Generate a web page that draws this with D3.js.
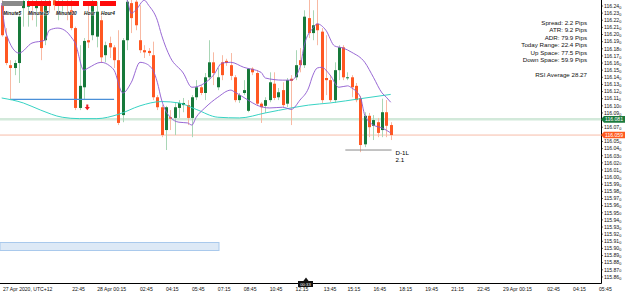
<!DOCTYPE html>
<html>
<head>
<meta charset="utf-8">
<script src="https://cdn.jsdelivr.net/npm/d3@7"></script>
<style>
  body { margin: 0; background: #fff; }
  svg { display: block; }
</style>
</head>
<body>
<div id="container"></div>
<script>
let w = 625;
let h = 294;
let plotRight = 601;
let plotBottom = 283;

// 15 minute candles
const opens = [
  116.241,116.197,116.157,116.153,116.160,116.237,116.239,116.246,116.237,116.244,
  116.192,116.246,116.248,116.241,116.243,116.247,116.234,116.209,116.097,116.126,
  116.192,116.199,116.197,116.220,116.171,116.188,116.182,116.164,116.087,116.192,
  116.244,116.246,116.192,116.178,116.177,116.171,116.112,116.098,116.066,116.084,
  116.083,116.097,116.101,116.101,116.083,116.112,116.126,116.118,116.140,116.161,
  116.126,116.161,116.163,116.157,116.140,116.108,116.118,116.093,116.152,116.146,
  116.103,116.100,116.108,116.131,116.112,116.122,116.103,116.138,116.140,116.164,
  116.157,116.223,116.202,116.215,116.204,116.139,116.136,116.108,116.150,116.182,
  116.139,116.140,116.128,116.111,116.046,116.086,116.072,116.077,116.066,116.091,
  116.073
];
const highs = [
  116.248,116.209,116.164,116.164,116.232,116.252,116.252,116.252,116.252,116.252,
  116.252,116.252,116.252,116.252,116.252,116.252,116.252,116.211,116.185,116.195,
  116.241,116.252,116.246,116.227,116.190,116.197,116.185,116.206,116.195,116.252,
  116.252,116.252,116.241,116.185,116.181,116.190,116.115,116.101,116.100,116.094,
  116.104,116.108,116.111,116.108,116.115,116.136,116.129,116.146,116.192,116.175,
  116.153,116.171,116.166,116.174,116.143,116.118,116.136,116.153,116.154,116.150,
  116.105,116.112,116.147,116.147,116.125,116.133,116.139,116.143,116.178,116.181,
  116.234,116.252,116.234,116.252,116.209,116.199,116.143,116.161,116.185,116.185,
  116.147,116.143,116.132,116.114,116.091,116.090,116.087,116.083,116.110,116.108,
  116.077
];
const lows = [
  116.197,116.157,116.108,116.143,116.132,116.211,116.211,116.220,116.211,116.164,
  116.185,116.230,116.234,116.220,116.227,116.220,116.206,116.094,116.094,116.108,
  116.181,116.192,116.182,116.160,116.161,116.167,116.153,116.073,116.077,116.178,
  116.202,116.206,116.174,116.167,116.170,116.108,116.094,116.056,116.038,116.066,
  116.059,116.083,116.091,116.073,116.056,116.108,116.115,116.108,116.136,116.129,
  116.122,116.136,116.156,116.136,116.105,116.104,116.115,116.091,116.143,116.100,
  116.076,116.090,116.105,116.108,116.108,116.098,116.098,116.073,116.136,116.147,
  116.153,116.195,116.192,116.185,116.104,116.115,116.105,116.104,116.136,116.136,
  116.136,116.112,116.105,116.035,116.042,116.056,116.052,116.056,116.056,116.056,
  116.052
];
const closes = [
  116.199,116.160,116.153,116.160,116.225,116.247,116.244,116.240,116.244,116.181,
  116.244,116.241,116.241,116.247,116.247,116.241,116.209,116.097,116.128,116.191,
  116.189,116.246,116.232,116.168,116.185,116.182,116.164,116.076,116.192,116.246,
  116.223,116.213,116.178,116.175,116.174,116.112,116.098,116.059,116.098,116.082,
  116.098,116.104,116.104,116.083,116.112,116.126,116.118,116.140,116.161,116.146,
  116.140,116.143,116.160,116.142,116.108,116.115,116.122,116.152,116.147,116.103,
  116.098,116.108,116.133,116.111,116.119,116.101,116.136,116.135,116.157,116.157,
  116.225,116.202,116.213,116.206,116.108,116.136,116.108,116.150,116.182,116.140,
  116.140,116.126,116.108,116.045,116.086,116.070,116.080,116.062,116.091,116.072,
  116.059
];

// indicator lines as [candle index, price]
const maLine = [[0,116.111],[5,116.104],[9,116.094],[14,116.084],[18,116.082],[22,116.082],
  [27,116.088],[32,116.100],[37,116.106],[41,116.104],[45,116.095],[50,116.084],[55,116.083],
  [61,116.090],[67,116.097],[71,116.101],[76,116.104],[83,116.110],[90,116.116]];
const bandLower = [[0,116.244],[1,116.202],[4,116.174],[7,116.188],[10,116.192],[11,116.206],
  [13,116.209],[15,116.204],[16,116.197],[17,116.188],[19,116.150],[20,116.153],[23,116.161],
  [25,116.156],[26,116.150],[28,116.118],[30,116.133],[32,116.161],[33,116.160],[35,116.150],
  [36,116.133],[37,116.108],[39,116.084],[41,116.077],[43,116.076],[44,116.073],[45,116.084],
  [47,116.097],[50,116.112],[53,116.122],[54,116.119],[57,116.108],[59,116.101],[62,116.097],
  [65,116.098],[67,116.095],[69,116.108],[71,116.125],[72,116.143],[73,116.153],[74,116.154],
  [76,116.143],[78,116.126],[80,116.128],[81,116.125],[83,116.112],[84,116.087],[86,116.073],
  [88,116.069],[90,116.062]];
const bandUpper = [[26,116.290],[29,116.249],[30,116.230],[31,116.234],[33,116.248],[34,116.241],
  [36,116.220],[37,116.199],[39,116.168],[42,116.146],[44,116.126],[47,116.132],[49,116.143],
  [51,116.160],[53,116.161],[56,116.154],[60,116.147],[61,116.139],[65,116.136],[67,116.136],
  [69,116.154],[70,116.185],[72,116.209],[73,116.215],[75,116.206],[77,116.184],[79,116.181],
  [81,116.175],[84,116.161],[86,116.140],[88,116.118],[89,116.112],[90,116.105]];
const prevLine = [[2,116.109],[26,116.109]];
const dayLow = [[79.5,116.038],[90.2,116.038]];

const bidPrice = 116.081;
const askPrice = 116.059;
const arrowAt = [19.8, 116.097];

const timeLabels = ["27 Apr 2020, UTC+12","22:45","28 Apr 00:15","02:45","04:15","05:45","07:15",
  "08:45","10:45","12:15","13:45","15:15","16:45","18:15","19:45","21:15","22:45","29 Apr 00:15",
  "02:45","04:15","05:45"];
const timeSlots = [0.3,16.3,22.1,32,38,44,50,56,62,68,74.5,80,86,92,98,104,110,116,126.2,132.2,138.2];

const infoLines = ["Spread: 2.2 Pips","ATR: 9.2 Pips","ADR: 79.9 Pips","Today Range: 22.4 Pips",
  "Up Space: 77.5 Pips","Down Space: 59.9 Pips","","RSI Average 28.27"];
const buttons = ["Minute5","Minute15","Minute30","Hour","Hour4"];

const upColor = "#17793a", upWick = "#a9d6b6";
const downColor = "#ff5722", downWick = "#f8b9a3";
const font = "'Liberation Sans', Arial, sans-serif";

let x = d3.scaleLinear().domain([0, 90]).range([1.7, 390.7]);
let y = d3.scaleLinear().domain([115.8515, 116.2484]).range([plotBottom, 0]);

let svg = d3.select("#container").append("svg")
    .attr("width", w)
    .attr("height", h)
    .style("background-color", "#fff");

svg.append("clipPath").attr("id", "plot")
  .append("rect").attr("x", 0).attr("y", 0).attr("width", plotRight).attr("height", plotBottom);

let plot = svg.append("g").attr("clip-path", "url(#plot)");

// bid / ask lines
plot.append("line").attr("x1", 0).attr("x2", plotRight)
  .attr("y1", y(bidPrice)).attr("y2", y(bidPrice))
  .attr("stroke", "#d2e9da").attr("stroke-width", 2.5);
plot.append("line").attr("x1", 0).attr("x2", plotRight)
  .attr("y1", y(askPrice)).attr("y2", y(askPrice))
  .attr("stroke", "#f7bca8").attr("stroke-width", 1);

let candles = d3.range(opens.length).map(i => ({
  i: i, o: opens[i], h: highs[i], l: lows[i], c: closes[i], up: closes[i] >= opens[i]
}));

let cg = plot.append("g");
cg.selectAll("line.wick").data(candles).join("line")
  .attr("class", "wick")
  .attr("x1", d => Math.round(x(d.i)) + 0.5).attr("x2", d => Math.round(x(d.i)) + 0.5)
  .attr("y1", d => y(d.h)).attr("y2", d => y(d.l))
  .attr("stroke", d => d.up ? upWick : downWick).attr("stroke-width", 1);
cg.selectAll("rect.body").data(candles).join("rect")
  .attr("class", "body")
  .attr("x", d => Math.round(x(d.i)) - 1)
  .attr("width", 3)
  .attr("y", d => y(Math.max(d.o, d.c)))
  .attr("height", d => Math.max(1, Math.abs(y(d.o) - y(d.c))))
  .attr("fill", d => d.up ? upColor : downColor);

let line = d3.line().x(d => x(d[0])).y(d => y(d[1])).curve(d3.curveMonotoneX);

plot.append("path").datum(prevLine).attr("d", line)
  .attr("fill", "none").attr("stroke", "#4a8fd8").attr("stroke-width", 1.1);
plot.append("path").datum(maLine).attr("d", line)
  .attr("fill", "none").attr("stroke", "#37d3c4").attr("stroke-width", 1);
plot.append("path").datum(bandLower).attr("d", line)
  .attr("fill", "none").attr("stroke", "#8d58cf").attr("stroke-width", 0.9);
plot.append("path").datum(bandUpper).attr("d", line)
  .attr("fill", "none").attr("stroke", "#8d58cf").attr("stroke-width", 0.9);

// day low marker
plot.append("path").datum(dayLow).attr("d", d3.line().x(d => x(d[0])).y(d => y(d[1])))
  .attr("stroke", "#8a8a8a").attr("stroke-width", 1);
svg.append("text").attr("x", x(dayLow[1][0]) + 4).attr("y", y(dayLow[0][1]) + 4.5)
  .attr("font-family", font).attr("font-size", 6.2).text("D-1L");
svg.append("text").attr("x", x(dayLow[1][0]) + 4).attr("y", y(dayLow[0][1]) + 12)
  .attr("font-family", font).attr("font-size", 6.2).text("2.1");

// signal arrow
plot.append("path")
  .attr("transform", `translate(${x(arrowAt[0])},${y(arrowAt[1])})`)
  .attr("d", "M-1,-3.5 H1 V-1 H2.6 L0,2.2 L-2.6,-1 H-1 Z")
  .attr("fill", "#ee1c24");

// light blue box
svg.append("rect").attr("x", 0).attr("y", 242.5).attr("width", 219).attr("height", 8)
  .attr("fill", "#dde9f6").attr("stroke", "#a9c9ec").attr("stroke-width", 1);

// axes
svg.append("line").attr("x1", plotRight + 0.5).attr("x2", plotRight + 0.5)
  .attr("y1", 0).attr("y2", plotBottom + 0.5).attr("stroke", "#000");
svg.append("line").attr("x1", 0).attr("x2", plotRight + 0.5)
  .attr("y1", plotBottom + 0.5).attr("y2", plotBottom + 0.5).attr("stroke", "#000");

// price labels hidden under the bid/ask tags
let priceTicks = d3.range(0, 39).map(k => +(115.86 + k * 0.01).toFixed(2))
  .filter(v => Math.abs(y(v) - y(bidPrice)) > 4.5 && Math.abs(y(v) - y(askPrice)) > 4.5);
let yt = svg.append("g").selectAll("g").data(priceTicks).join("g")
  .attr("transform", d => `translate(${plotRight},${y(d)})`);
yt.append("line").attr("x1", 0).attr("x2", 2).attr("stroke", "#000").attr("stroke-width", 0.6);
let ytx = yt.append("text").attr("x", 3).attr("y", 1.8)
  .attr("font-family", font).attr("font-size", 5.1).attr("fill", "#111");
ytx.append("tspan").text(d => d.toFixed(2));
ytx.append("tspan").attr("font-size", 3.8).attr("dy", 0.8).text("0");

// current price tags
function tag(price, fill) {
  let yy = y(price);
  svg.append("path")
    .attr("d", `M${plotRight},${yy} L${plotRight + 3},${yy - 3.3} H${w} V${yy + 3.3} H${plotRight + 3} Z`)
    .attr("fill", fill);
  svg.append("text").attr("x", plotRight + 4).attr("y", yy + 1.8)
    .attr("font-family", font).attr("font-size", 5.1).attr("fill", "#fff")
    .text(price.toFixed(3));
}
tag(bidPrice, "#1b7a3c");
tag(askPrice, "#ff5a1f");

svg.append("g").selectAll("text").data(timeLabels).join("text")
  .attr("x", (d, i) => x(timeSlots[i]))
  .attr("y", 290.5)
  .attr("font-family", font).attr("font-size", 5.1).attr("fill", "#111")
  .text(d => d);

// current time marker on the time axis
svg.append("path").attr("d", "M303,281.5 L306,277.5 L309,281.5 Z").attr("fill", "#111");
svg.append("rect").attr("x", 298).attr("y", 281).attr("width", 15).attr("height", 6).attr("fill", "#111");
svg.append("text").attr("x", 305.5).attr("y", 285.6).attr("text-anchor", "middle")
  .attr("font-family", font).attr("font-size", 4.2).attr("fill", "#fff").text("00:33");

// info panel
svg.append("g").selectAll("text").data(infoLines).join("text")
  .attr("x", 587).attr("y", (d, i) => 25 + i * 7.4)
  .attr("text-anchor", "end")
  .attr("font-family", font).attr("font-size", 6.2).attr("fill", "#111")
  .text(d => d);

// timeframe buttons
const btnX = [2, 27, 55, 83, 100];
const btnW = [21, 24, 24, 14, 16];
svg.append("g").selectAll("rect").data(buttons).join("rect")
  .attr("x", (d, i) => btnX[i]).attr("y", 1).attr("width", (d, i) => btnW[i]).attr("height", 5)
  .attr("fill", (d, i) => i == 0 ? "#8a8a8a" : "#ff0a0a");
svg.append("g").selectAll("text").data(buttons).join("text")
  .attr("x", (d, i) => btnX[i] + 1).attr("y", 15)
  .attr("font-family", font).attr("font-size", 4.8)
  .attr("font-weight", "bold").attr("font-style", "italic")
  .attr("fill", "#111").attr("stroke", "#fff").attr("stroke-width", 0.4).attr("paint-order", "stroke")
  .text(d => d);
</script>
</body>
</html>
